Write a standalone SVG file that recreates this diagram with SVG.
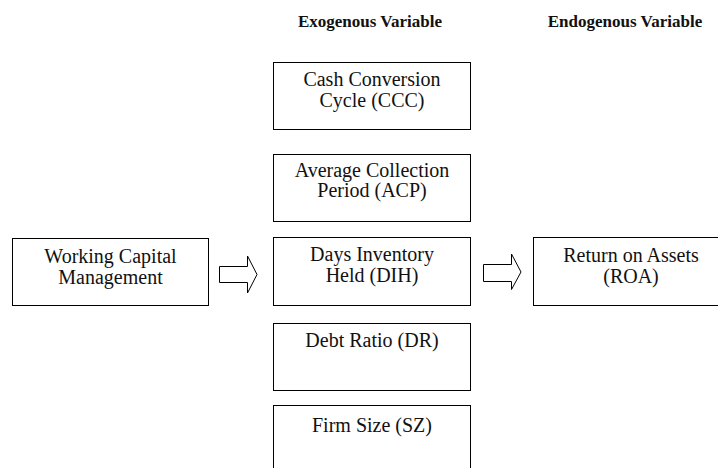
<svg xmlns="http://www.w3.org/2000/svg" width="718" height="468" viewBox="0 0 718 468">
<style>
.box{fill:#fff;stroke:#000;stroke-width:1}
.t{font-family:'Liberation Serif','Times New Roman',Times,serif;font-size:20px;fill:#111;text-anchor:middle}
.h{font-family:'Liberation Serif','Times New Roman',Times,serif;font-size:17px;font-weight:bold;fill:#111;text-anchor:middle}
.arr{fill:#fff;stroke:#000;stroke-width:1;stroke-linejoin:miter}
</style>
<rect width="718" height="468" fill="#fff"/>
<g id="headers">
<text class="h" x="370" y="27">Exogenous Variable</text>
<text class="h" x="625" y="27">Endogenous Variable</text>
</g>
<g id="wcm">
<rect class="box" x="12.5" y="238.5" width="196" height="67"/>
<text class="t" x="110.5" y="263">Working Capital</text>
<text class="t" x="110.5" y="283.5">Management</text>
</g>
<g id="ccc">
<rect class="box" x="273.5" y="62.5" width="197" height="67"/>
<text class="t" x="372" y="86">Cash Conversion</text>
<text class="t" x="372" y="107">Cycle (CCC)</text>
</g>
<g id="acp">
<rect class="box" x="273.5" y="154.5" width="197" height="67"/>
<text class="t" x="372" y="177">Average Collection</text>
<text class="t" x="372" y="197">Period (ACP)</text>
</g>
<g id="dih">
<rect class="box" x="273.5" y="237.5" width="197" height="68"/>
<text class="t" x="372" y="261">Days Inventory</text>
<text class="t" x="372" y="282">Held (DIH)</text>
</g>
<g id="dr">
<rect class="box" x="273.5" y="323.5" width="197" height="67"/>
<text class="t" x="372" y="347">Debt Ratio (DR)</text>
</g>
<g id="sz">
<rect class="box" x="273.5" y="405.5" width="197" height="70"/>
<text class="t" x="372" y="432">Firm Size (SZ)</text>
</g>
<g id="roa">
<rect class="box" x="533.5" y="237.5" width="195" height="68"/>
<text class="t" x="631" y="262">Return on Assets</text>
<text class="t" x="631" y="283">(ROA)</text>
</g>
<g id="connectors">
<polygon class="arr" points="219.5,266.5 247.5,266.5 247.5,256 257,274.5 247.5,293 247.5,282.5 219.5,282.5"/>
<polygon class="arr" points="483.5,264.5 511.5,264.5 511.5,254 521,272 511.5,289.5 511.5,281.5 483.5,281.5"/>
</g>
</svg>
